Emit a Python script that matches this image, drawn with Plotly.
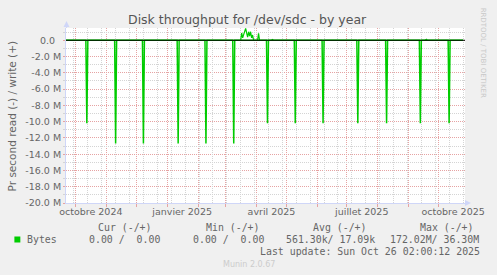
import plotly.graph_objects as go

# ---------------- data (MB/s, daily averages; read is drawn negative) ----------------
read_dates = [
    "2024-09-21",
    "2024-10-11", "2024-10-12", "2024-10-13",
    "2024-11-09", "2024-11-10", "2024-11-11",
    "2024-12-07", "2024-12-08", "2024-12-09",
    "2025-01-11", "2025-01-12", "2025-01-13",
    "2025-02-08", "2025-02-09", "2025-02-10",
    "2025-03-08", "2025-03-09", "2025-03-10",
    "2025-04-11", "2025-04-12", "2025-04-13",
    "2025-05-09", "2025-05-10", "2025-05-11",
    "2025-06-06", "2025-06-07", "2025-06-08",
    "2025-07-11", "2025-07-12", "2025-07-13",
    "2025-08-09", "2025-08-10", "2025-08-11",
    "2025-09-12", "2025-09-13", "2025-09-14",
    "2025-10-11", "2025-10-12", "2025-10-13",
    "2025-10-26",
]
read_values = [
    0,
    0, -10.2, 0,
    0, -12.7, 0,
    0, -12.7, 0,
    0, -12.7, 0,
    0, -12.7, 0,
    0, -12.7, 0,
    0, -10.2, 0,
    0, -10.2, 0,
    0, -10.2, 0,
    0, -10.2, 0,
    0, -10.2, 0,
    0, -10.2, 0,
    0, -10.2, 0,
    0,
]

write_dates = [
    "2024-09-21",
    "2025-03-16", "2025-03-17", "2025-03-18", "2025-03-19", "2025-03-20",
    "2025-03-21", "2025-03-22", "2025-03-23", "2025-03-24", "2025-03-25",
    "2025-03-26", "2025-03-27", "2025-03-28", "2025-03-29",
    "2025-04-02", "2025-04-03", "2025-04-04",
    "2025-04-16", "2025-04-17", "2025-04-18",
    "2025-09-18", "2025-09-19", "2025-09-20",
    "2025-10-26",
]
write_values = [
    0,
    0, 0.9, 0.3, 0.7, 1.2,
    1.45, 0.9, 0.4, 1.05, 0.5,
    1.05, 0.3, 0.65, 0,
    0, 0.85, 0,
    0, 0.1, 0,
    0, 0.12, 0,
    0,
]

x_range = ["2024-09-21", "2025-10-28"]
y_range = [-20, 1.51]

x_tick_vals = ["2024-10-16", "2025-01-16", "2025-04-16", "2025-07-16", "2025-10-16"]
x_tick_text = ["octobre 2024", "janvier 2025", "avril 2025", "juillet 2025", "octobre 2025"]

y_tick_vals = [0, -2, -4, -6, -8, -10, -12, -14, -16, -18, -20]
y_tick_text = ["0.0\u00a0\u00a0", "-2.0 M", "-4.0 M", "-6.0 M", "-8.0 M", "-10.0 M",
               "-12.0 M", "-14.0 M", "-16.0 M", "-18.0 M", "-20.0 M"]

title_text = "Disk throughput for /dev/sdc - by year"
y_title = "Pr second read (-) / write (+)"
legend_headers = ["Cur (-/+)", "Min (-/+)", "Avg (-/+)", "Max (-/+)"]
legend_name = "Bytes"
legend_values = ["0.00 /  0.00", "0.00 /  0.00", "561.30k/ 17.09k", "172.02M/ 36.30M"]
last_update = "Last update: Sun Oct 26 02:00:12 2025"
munin_version = "Munin 2.0.67"
watermark = "RRDTOOL / TOBI OETIKER"

# ---------------- layout geometry ----------------
W, H = 497, 275
L, R, T, B = 66, 29, 28, 72
PW, PH = W - L - R, H - T - B


def px(x):
    return (x - L) / PW


def py(y):
    return (H - B - y) / PH


def nb(s):
    return s.replace(" ", "\u00a0")


GREEN = "#00CC00"
FONT = "DejaVu Sans"
MONO = "DejaVu Sans Mono"
TXT = "#666666"
AXIS = "#CFD6F8"
MGRID = "#E6A3A3"
GRID = "#D4D4D4"

fig = go.Figure()
fig.add_trace(go.Scatter(x=read_dates, y=read_values, mode="lines",
                         line=dict(color=GREEN, width=1.5), showlegend=False,
                         hoverinfo="skip"))
fig.add_trace(go.Scatter(x=write_dates, y=write_values, mode="lines",
                         line=dict(color=GREEN, width=1.2), showlegend=False,
                         hoverinfo="skip"))
# empty trace to host the 2-week minor grid axis
fig.add_trace(go.Scatter(x=[], y=[], xaxis="x2", showlegend=False, hoverinfo="skip"))

fig.update_layout(
    width=W, height=H,
    margin=dict(l=L, r=R, t=T, b=B, pad=0),
    paper_bgcolor="#F0F0F0",
    plot_bgcolor="#FFFFFF",
    font=dict(family=FONT, color=TXT, size=9.5),
    showlegend=False,
    xaxis=dict(
        type="date", range=x_range,
        tickmode="array", tickvals=x_tick_vals, ticktext=x_tick_text,
        showgrid=False, ticks="", zeroline=False,
        showline=True, linecolor=AXIS, linewidth=1,
        tickfont=dict(family=FONT, size=9.5, color=TXT),
        minor=dict(tickmode="linear", tick0="2024-10-01", dtick="M1",
                   showgrid=True, gridcolor=MGRID, griddash="1px,1px", gridwidth=1,
                   ticks="outside", ticklen=3, tickcolor=MGRID),
        fixedrange=True,
    ),
    xaxis2=dict(
        type="date", range=x_range, overlaying="x", matches="x",
        tickmode="linear", tick0="2024-09-29", dtick=14 * 86400000,
        showgrid=True, gridcolor=GRID, griddash="1px,1px", gridwidth=1,
        showticklabels=False, ticks="", showline=False, zeroline=False,
    ),
    yaxis=dict(
        range=y_range,
        tickmode="array", tickvals=y_tick_vals, ticktext=y_tick_text,
        showgrid=True, gridcolor=MGRID, griddash="1px,1px", gridwidth=1,
        ticks="outside", ticklen=2, tickcolor=MGRID,
        zeroline=False,
        showline=True, linecolor=AXIS, linewidth=1,
        tickfont=dict(family=FONT, size=9.5, color=TXT),
        minor=dict(tickmode="linear", tick0=0, dtick=1,
                   showgrid=True, gridcolor=GRID, griddash="1px,1px", gridwidth=1,
                   ticks="outside", ticklen=2, tickcolor=GRID),
        fixedrange=True,
    ),
)

shapes = []
# zero line (black)
shapes.append(dict(type="line", xref="paper", yref="y", x0=0, x1=1, y0=0, y1=0,
                   line=dict(color="#000000", width=1), layer="above"))
# axis arrows
shapes.append(dict(type="path", xref="paper", yref="paper",
                   path=f"M {px(63.5)},{py(27)} L {px(69.5)},{py(27)} L {px(66.5)},{py(21)} Z",
                   fillcolor=AXIS, line=dict(width=0)))
shapes.append(dict(type="line", xref="paper", yref="paper",
                   x0=px(66.5), x1=px(66.5), y0=py(28), y1=py(26.5),
                   line=dict(color=AXIS, width=1)))
shapes.append(dict(type="path", xref="paper", yref="paper",
                   path=f"M {px(468)},{py(200)} L {px(468)},{py(206)} L {px(474)},{py(203)} Z",
                   fillcolor=AXIS, line=dict(width=0)))
# legend colour box
shapes.append(dict(type="rect", xref="paper", yref="paper",
                   x0=px(14), x1=px(20), y0=py(242.5), y1=py(236.5),
                   fillcolor=GREEN, line=dict(width=0)))
fig.update_layout(shapes=shapes)

ann = []


def text(x, y, s, size, family=FONT, color=TXT, xanchor="left", angle=0):
    ann.append(dict(x=px(x), y=py(y), xref="paper", yref="paper", text=s,
                    showarrow=False, xanchor=xanchor, yanchor="middle",
                    font=dict(family=family, size=size, color=color),
                    borderpad=0, borderwidth=0, textangle=angle))


text(248.5, 19, title_text, 12.5, color="#555555", xanchor="center")
text(11.5, 115.5, y_title, 10.5, xanchor="center", angle=-90)

header_x = [98, 206.7, 315, 422.7]
for hx, h in zip(header_x, legend_headers):
    text(hx, 227.7, nb(h), 9.9, family=MONO)

text(26.7, 239.5, nb(legend_name), 9.9, family=MONO)
value_x = [89.3, 194.3, 287.3, 392.3]
for vx, v in zip(value_x, legend_values):
    text(vx, 239.5, nb(v), 9.9, family=MONO)

text(483.5, 251.5, nb(last_update), 9.9, family=MONO, xanchor="right")
text(250, 264, munin_version, 8, color="#CCCCCC", xanchor="center")
text(487, 52.5, watermark, 7, color="#C8C8C8", xanchor="center", angle=90)

fig.update_layout(annotations=ann)

fig.write_html("out.html")
